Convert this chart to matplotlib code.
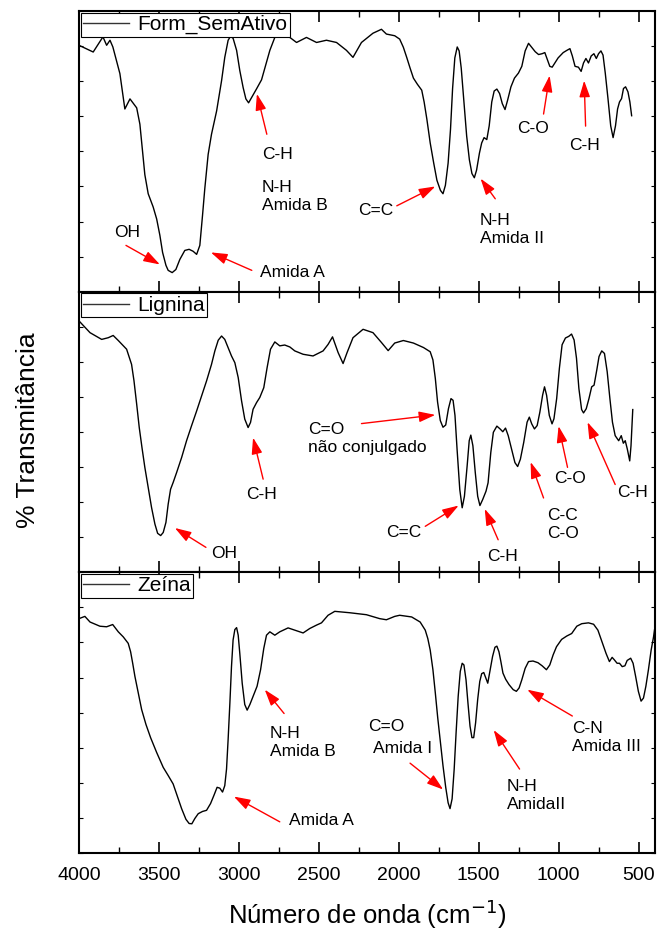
import matplotlib
matplotlib.use("Agg")
import matplotlib.pyplot as plt
from matplotlib.ticker import MultipleLocator, NullFormatter

plt.rcParams['font.family'] = ['Liberation Sans', 'DejaVu Sans']

# FTIR spectra: wavenumber (cm-1) and relative transmittance (%)
form_wn = [4000, 3911, 3850, 3827, 3806, 3788, 3744, 3713, 3681, 3639, 3619, 3602, 3588, 3567,
           3536, 3514, 3494, 3477, 3456, 3442, 3417, 3394, 3369, 3338, 3311, 3286, 3264, 3244,
           3227, 3213, 3192, 3171, 3139, 3108, 3088, 3067, 3052, 3036, 3014, 2994, 2973, 2956,
           2939, 2921, 2889, 2858, 2838, 2806, 2775, 2744, 2681, 2639, 2577, 2514, 2452, 2389,
           2327, 2286, 2233, 2161, 2108, 2077, 2025, 1994, 1971, 1950, 1929, 1908, 1883, 1856,
           1841, 1824, 1803, 1781, 1761, 1739, 1723, 1708, 1691, 1676, 1663, 1649, 1634, 1622,
           1609, 1592, 1575, 1558, 1542, 1527, 1513, 1495, 1481, 1466, 1449, 1434, 1418, 1403,
           1386, 1369, 1352, 1335, 1319, 1298, 1276, 1251, 1230, 1209, 1188, 1167, 1146, 1125,
           1103, 1086, 1070, 1055, 1040, 1023, 1003, 971, 948, 929, 914, 897, 876, 859, 844, 829,
           813, 796, 779, 764, 750, 735, 722, 708, 691, 674, 659, 644, 631, 619, 606, 594, 581,
           566, 554, 543]
form_t = [87.8, 85.4, 90.8, 87.8, 89.6, 87.2, 77.7, 65.1, 68.7, 65.5, 59.7, 50.0, 41.7, 34.9,
          30.2, 25.9, 20.1, 14.0, 9.4, 7.6, 6.8, 7.9, 11.5, 14.7, 15.1, 14.4, 13.3, 16.5,
          27.3, 36.7, 48.9, 56.1, 64.4, 75.2, 83.5, 89.6, 91.0, 90.3, 86.0, 78.8, 72.7, 68.7,
          67.3, 69.1, 72.3, 75.5, 79.5, 86.0, 90.6, 92.1, 90.6, 88.8, 90.6, 88.8, 89.6, 88.8,
          86.0, 83.5, 88.8, 92.1, 93.5, 91.8, 91.2, 90.0, 87.1, 83.5, 79.7, 76.1, 73.9, 71.8,
          67.6, 61.5, 53.0, 45.8, 39.7, 36.1, 34.9, 37.9, 45.8, 57.9, 72.4, 83.3, 87.2, 85.8,
          79.7, 67.6, 55.5, 47.0, 42.1, 40.6, 43.3, 49.4, 53.0, 54.9, 54.2, 59.1, 67.6, 71.5,
          72.2, 70.6, 67.0, 64.9, 68.2, 73.0, 76.1, 77.9, 80.3, 85.8, 88.5, 87.0, 85.5, 84.5,
          84.8, 85.2, 82.7, 80.3, 80.0, 81.5, 83.3, 85.2, 86.0, 86.6, 84.0, 80.3, 80.0, 78.5,
          81.5, 83.1, 81.5, 84.0, 84.8, 83.1, 84.8, 85.8, 84.3, 77.9, 68.8, 59.1, 54.9, 59.1,
          65.1, 67.6, 68.8, 72.4, 73.0, 71.2, 67.6, 62.7]

lig_wn = [4000, 3931, 3858, 3817, 3786, 3754, 3702, 3671, 3656, 3639, 3623, 3606, 3588, 3567,
          3546, 3525, 3508, 3489, 3473, 3456, 3442, 3427, 3411, 3389, 3358, 3327, 3296, 3264,
          3233, 3202, 3171, 3150, 3129, 3108, 3088, 3067, 3046, 3025, 3004, 2983, 2963, 2942,
          2927, 2911, 2889, 2869, 2844, 2823, 2802, 2775, 2744, 2713, 2681, 2650, 2598, 2536,
          2473, 2442, 2414, 2379, 2348, 2323, 2286, 2223, 2161, 2108, 2066, 2025, 1971, 1908,
          1845, 1803, 1786, 1771, 1757, 1740, 1723, 1706, 1689, 1673, 1660, 1648, 1635, 1618,
          1603, 1589, 1572, 1559, 1549, 1536, 1521, 1506, 1492, 1475, 1454, 1441, 1424, 1408,
          1386, 1366, 1349, 1332, 1315, 1294, 1273, 1256, 1239, 1218, 1197, 1183, 1168, 1151,
          1134, 1117, 1100, 1088, 1075, 1058, 1041, 1029, 1012, 995, 978, 957, 936, 919, 903,
          888, 873, 856, 844, 827, 810, 793, 778, 761, 747, 730, 713, 696, 679, 663, 646, 624,
          608, 595, 583, 570, 555, 547, 536]
lig_t = [89.6, 85.4, 83.0, 83.6, 84.4, 82.6, 79.5, 74.1, 68.3, 59.9, 51.6, 44.5, 37.4, 30.2,
         23.1, 17.2, 13.9, 13.1, 14.2, 17.8, 24.3, 29.6, 32.0, 35.6, 40.9, 46.9, 52.2, 57.5,
         62.9, 68.2, 74.1, 78.9, 82.7, 84.2, 83.0, 80.1, 77.1, 74.7, 69.4, 61.1, 54.6, 51.6,
         53.4, 58.1, 60.5, 62.3, 65.8, 73.0, 79.5, 82.1, 80.7, 81.0, 80.3, 78.9, 77.7, 77.1,
         78.9, 81.2, 83.9, 78.3, 74.4, 78.3, 83.6, 86.6, 85.4, 81.9, 79.0, 81.7, 82.6, 81.7,
         80.1, 78.6, 75.7, 69.1, 60.7, 54.1, 51.7, 52.5, 58.3, 61.9, 61.3, 55.9, 43.9, 29.5,
         23.0, 27.1, 37.9, 46.9, 48.9, 45.1, 35.5, 27.1, 23.8, 25.9, 28.9, 31.9, 42.7, 49.9,
         52.1, 51.1, 50.1, 51.4, 48.7, 43.9, 39.1, 37.7, 40.3, 46.3, 53.5, 55.3, 52.9, 51.1,
         52.3, 57.1, 63.1, 66.1, 63.1, 55.9, 52.9, 54.7, 61.9, 72.7, 81.1, 83.5, 84.1, 84.9,
         82.8, 76.3, 65.5, 58.0, 56.8, 58.3, 61.9, 66.1, 66.7, 72.1, 76.9, 78.9, 78.0, 71.5,
         61.9, 53.5, 48.7, 46.9, 48.7, 46.0, 46.9, 43.9, 39.7, 45.1, 58.0]

zein_wn = [4000, 3963, 3931, 3869, 3827, 3789, 3754, 3723, 3692, 3677, 3664, 3650, 3629, 3608,
           3581, 3552, 3514, 3473, 3442, 3411, 3386, 3358, 3331, 3311, 3294, 3275, 3254, 3227,
           3202, 3177, 3156, 3136, 3119, 3102, 3088, 3077, 3067, 3056, 3046, 3036, 3025, 3014,
           3004, 2994, 2979, 2963, 2948, 2931, 2911, 2886, 2864, 2844, 2827, 2806, 2775, 2744,
           2692, 2629, 2598, 2556, 2514, 2483, 2442, 2400, 2306, 2202, 2119, 2077, 2025, 1994,
           1919, 1866, 1834, 1818, 1803, 1786, 1771, 1756, 1739, 1723, 1706, 1691, 1679, 1666,
           1653, 1641, 1628, 1615, 1603, 1592, 1579, 1567, 1554, 1542, 1531, 1519, 1506, 1493,
           1481, 1468, 1455, 1443, 1428, 1413, 1398, 1386, 1373, 1361, 1348, 1331, 1310, 1284,
           1264, 1247, 1230, 1209, 1188, 1160, 1129, 1103, 1076, 1055, 1034, 1013, 981, 949, 918,
           886, 855, 813, 781, 754, 729, 703, 682, 665, 651, 634, 619, 602, 585, 571, 549, 534,
           518, 501, 484, 469, 454, 438, 421, 406, 400]
zein_t = [83.5, 84.3, 82.3, 80.8, 80.6, 81.4, 78.8, 77.0, 74.7, 71.7, 67.6, 62.9, 57.0, 51.1,
          45.8, 41.1, 35.8, 30.5, 27.6, 24.6, 20.5, 15.8, 12.0, 10.5, 10.4, 12.3, 14.0, 14.8,
          15.2, 17.6, 20.5, 23.4, 23.1, 21.7, 24.0, 29.9, 40.5, 53.5, 66.4, 75.9, 79.6, 80.3,
          77.6, 71.1, 60.5, 52.9, 50.9, 52.9, 55.8, 59.4, 65.3, 72.9, 77.6, 78.8, 77.6, 78.8,
          80.2, 79.0, 78.4, 80.0, 81.2, 82.0, 84.7, 86.1, 85.6, 84.9, 83.5, 83.1, 84.3, 84.7,
          84.1, 82.3, 79.4, 76.4, 72.3, 65.3, 57.0, 48.2, 39.3, 31.1, 23.4, 17.9, 15.8, 19.3,
          29.9, 42.9, 55.8, 64.7, 67.6, 67.0, 61.7, 53.5, 45.2, 41.1, 41.1, 46.4, 54.7, 61.1,
          63.9, 64.3, 62.3, 60.5, 65.3, 70.0, 73.3, 73.7, 71.7, 68.2, 64.1, 61.9, 60.0, 58.2,
          57.6, 58.8, 61.7, 65.8, 68.2, 68.4, 67.8, 66.7, 65.3, 67.0, 70.6, 73.5, 76.1, 77.3,
          78.2, 80.8, 81.7, 82.0, 81.5, 79.4, 75.3, 71.1, 68.2, 69.7, 68.8, 67.6, 67.6, 66.4,
          66.7, 68.6, 69.4, 67.6, 62.9, 57.6, 54.1, 55.2, 59.4, 65.3, 72.3, 77.0, 79.5]

series_names = ["Form_SemAtivo", "Lignina", "Zeína"]
xtick_values = [4000, 3500, 3000, 2500, 2000, 1500, 1000, 500]

# Band assignments: (text, text position, arrow tail, arrow head)
form_notes = [
    ("OH", (3781, 21.2), (3706, 16.5), (3494, 9.7)),
    ("Amida A", (2869, 6.8), (2919, 7.6), (3175, 14.0)),
    ("C-H", (2856, 48.9), (2825, 56.1), (2887, 70.5)),
    ("N-H\nAmida B", (2856, 33.8), None, None),
    ("C=C", (2256, 29.1), (2012, 30.6), (1771, 37.5)),
    ("N-H\nAmida II", (1494, 22.3), (1396, 33.1), (1488, 40.3)),
    ("C-O", (1259, 58.3), (1094, 63.3), (1056, 77.0)),
    ("C-H", (937, 52.2), (831, 59.0), (840, 75.2)),
]
lig_notes = [
    ("OH", (3171, 6.6), (3206, 8.9), (3400, 15.8)),
    ("C-H", (2956, 27.9), (2848, 33.2), (2911, 48.0)),
    ("C=O\nnão conjulgado", (2569, 47.8), (2233, 53.0), (1771, 56.1)),
    ("C=C", (2081, 14.2), (1834, 16.4), (1625, 23.8)),
    ("C-H", (1450, 5.8), (1378, 11.6), (1462, 22.6)),
    ("C-C\nC-O", (1069, 17.0), (1094, 26.5), (1175, 39.3)),
    ("C-O", (1025, 33.5), (944, 37.4), (1000, 52.1)),
    ("C-H", (634, 28.4), (646, 31.3), (819, 53.5)),
]
zein_notes = [
    ("N-H\nAmida B", (2806, 39.3), (2717, 49.7), (2838, 58.2)),
    ("Amida A", (2688, 11.4), (2744, 11.1), (3031, 20.1)),
    ("C=O", (2192, 44.9), None, None),
    ("Amida I", (2161, 37.3), (1929, 32.0), (1722, 22.6)),
    ("N-H\nAmidaII", (1322, 20.6), (1244, 29.9), (1406, 43.8)),
    ("C-N\nAmida III", (914, 41.2), (914, 48.8), (1196, 58.2)),
]

spectra = [(form_wn, form_t, form_notes),
           (lig_wn, lig_t, lig_notes),
           (zein_wn, zein_t, zein_notes)]

fig, axes = plt.subplots(3, 1, figsize=(6.57, 9.36), dpi=100, sharex=True)
fig.subplots_adjust(left=0.1202, right=0.9962, top=0.9882, bottom=0.0887, hspace=0)

for ax, (wn, t, notes), name in zip(axes, spectra, series_names):
    ax.plot(wn, t, color="black", lw=1.0, label=name)
    ax.set_xlim(4000, 400)
    ax.set_ylim(0, 100)
    ax.xaxis.set_major_locator(MultipleLocator(500))
    ax.xaxis.set_minor_locator(MultipleLocator(250))
    ax.yaxis.set_major_locator(MultipleLocator(12.5))
    ax.yaxis.set_major_formatter(NullFormatter())
    ax.tick_params(axis="x", which="major", direction="in", length=8, width=1.2,
                   top=True, bottom=True, labelsize=14, pad=10)
    ax.tick_params(axis="x", which="minor", direction="in", length=4, width=1.0,
                   top=True, bottom=True)
    ax.tick_params(axis="y", which="major", direction="in", length=3, width=0.8,
                   left=True, right=True)
    for sp in ax.spines.values():
        sp.set_linewidth(1.5)
    leg = ax.legend(loc="upper left", fontsize=15, frameon=True, fancybox=False,
                    edgecolor="black", framealpha=1, borderpad=0.12, borderaxespad=0.08,
                    handlelength=2.2, handletextpad=0.4)
    leg.get_frame().set_linewidth(0.8)
    for line in leg.get_lines():
        line.set_color("#333333")
        line.set_linewidth(1.0)
    for text, pos, tail, head in notes:
        ax.text(pos[0], pos[1], text, fontsize=12.5, ha="left", va="center",
                linespacing=1.25)
        if tail is not None:
            ax.annotate("", xy=head, xytext=tail,
                        arrowprops=dict(arrowstyle="-|>,head_length=0.55,head_width=0.18",
                                        color="red", lw=1.0, mutation_scale=18,
                                        shrinkA=0, shrinkB=0))

axes[-1].set_xticks(xtick_values)
axes[-1].set_xticklabels([str(v) for v in xtick_values])
axes[-1].set_xlabel("Número de onda (cm$^{-1}$)", fontsize=18.5, labelpad=10)
fig.text(0.042, 0.54, "% Transmitância", rotation=90, fontsize=19,
         ha="center", va="center")

fig.savefig("out.png", dpi=100)
